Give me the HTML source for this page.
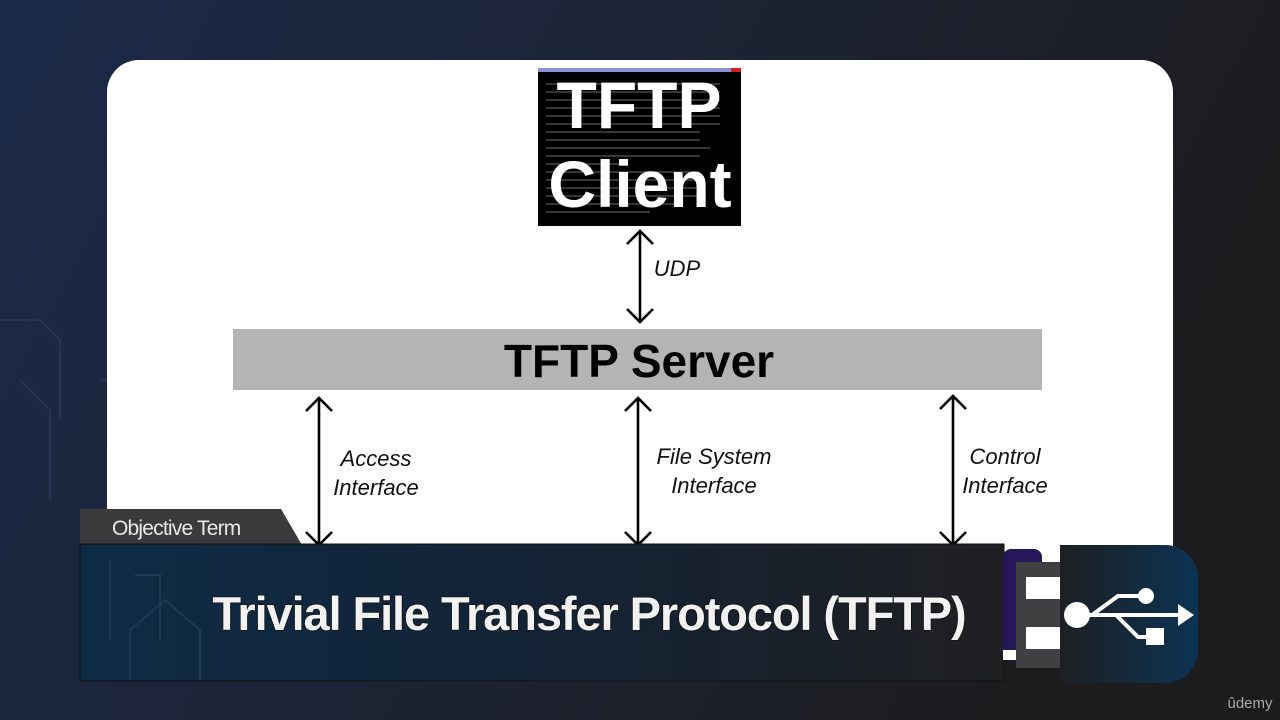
<!DOCTYPE html>
<html><head><meta charset="utf-8"><style>
html,body{margin:0;padding:0;width:1280px;height:720px;overflow:hidden;background:#1c1f26}
svg{display:block}
</style></head><body>
<svg width="1280" height="720" viewBox="0 0 1280 720" xmlns="http://www.w3.org/2000/svg">
<defs>
<linearGradient id="bg" x1="0" y1="0" x2="1" y2="0.3">
<stop offset="0" stop-color="#1b2a4a"/><stop offset="0.6" stop-color="#1d2230"/><stop offset="1" stop-color="#1c1c1e"/>
</linearGradient>
<linearGradient id="ban" x1="0" y1="0" x2="1" y2="0">
<stop offset="0" stop-color="#0e2b46"/><stop offset="0.55" stop-color="#142233"/><stop offset="1" stop-color="#1f1f21"/>
</linearGradient>
<linearGradient id="usb" x1="0" y1="0" x2="1" y2="0">
<stop offset="0" stop-color="#1e1f22"/><stop offset="1" stop-color="#0c3354"/>
</linearGradient>
</defs>
<rect width="1280" height="720" fill="url(#bg)"/>
<g stroke="#2c3e5e" stroke-width="2" fill="none" opacity="0.6">
<path d="M0 320 H40 L60 340 V420"/><path d="M20 380 L50 410 V500"/><path d="M100 380 H130 V450"/>
</g>
<rect x="107" y="60" width="1066" height="560" rx="32" fill="#fff"/>
<!-- client -->
<rect x="538" y="68" width="203" height="158" fill="#000"/>
<rect x="538" y="68" width="193" height="4" fill="#8a90d8"/>
<rect x="731" y="68" width="10" height="4" fill="#d02020"/>
<g stroke="#555" stroke-width="1.2">
<line x1="546" y1="84" x2="720" y2="84"/><line x1="546" y1="92" x2="720" y2="92"/><line x1="546" y1="100" x2="720" y2="100"/>
<line x1="546" y1="108" x2="720" y2="108"/><line x1="546" y1="116" x2="720" y2="116"/><line x1="546" y1="124" x2="720" y2="124"/>
<line x1="546" y1="132" x2="700" y2="132"/><line x1="546" y1="140" x2="700" y2="140"/><line x1="546" y1="148" x2="710" y2="148"/>
<line x1="546" y1="156" x2="700" y2="156"/><line x1="546" y1="164" x2="620" y2="164"/><line x1="546" y1="172" x2="700" y2="172"/>
<line x1="546" y1="180" x2="700" y2="180"/><line x1="546" y1="188" x2="700" y2="188"/><line x1="546" y1="196" x2="700" y2="196"/>
<line x1="546" y1="204" x2="680" y2="204"/><line x1="546" y1="212" x2="650" y2="212"/>
</g>
<g font-family="Liberation Sans, sans-serif" font-weight="bold" fill="#fff" text-anchor="middle">
<text x="639" y="128" font-size="66">TFTP</text>
<text x="640" y="207" font-size="66">Client</text>
</g>
<!-- server -->
<rect x="233" y="329" width="809" height="61" fill="#b4b4b4"/>
<text x="639" y="377" font-family="Liberation Sans, sans-serif" font-weight="bold" font-size="46" text-anchor="middle" fill="#000">TFTP Server</text>
<!-- arrows -->
<g stroke="#000" stroke-width="2.6" fill="none">
<line x1="640" y1="231" x2="640" y2="322"/>
<path d="M627 244 L640 231 L653 244"/><path d="M627 309 L640 322 L653 309"/>
<line x1="319" y1="398" x2="319" y2="545"/>
<path d="M306 411 L319 398 L332 411"/><path d="M306 532 L319 545 L332 532"/>
<line x1="638" y1="398" x2="638" y2="545"/>
<path d="M625 411 L638 398 L651 411"/><path d="M625 532 L638 545 L651 532"/>
<line x1="953" y1="396" x2="953" y2="545"/>
<path d="M940 409 L953 396 L966 409"/><path d="M940 532 L953 545 L966 532"/>
</g>
<g font-family="Liberation Sans, sans-serif" font-style="italic" font-size="22" fill="#111" text-anchor="middle">
<text x="677" y="276">UDP</text>
<text x="376" y="466">Access</text><text x="376" y="495">Interface</text>
<text x="714" y="464">File System</text><text x="714" y="493">Interface</text>
<text x="1005" y="464">Control</text><text x="1005" y="493">Interface</text>
</g>
<!-- banner -->
<path d="M80 509 H281 L302 545 H80 Z" fill="#3b3b3d"/>
<text x="112" y="535" font-family="Liberation Sans, sans-serif" font-size="21" fill="#e8e8e8" letter-spacing="-0.8">Objective Term</text>
<rect x="80" y="544" width="924" height="137" fill="url(#ban)" stroke="#111" stroke-width="1"/>
<g stroke="#24405f" stroke-width="2" fill="none" opacity="0.7">
<path d="M110 560 V640"/><path d="M135 575 H160 V640"/><path d="M130 680 V630 L165 600 L200 630 V680"/>
</g>
<text x="589" y="630" font-family="Liberation Sans, sans-serif" font-weight="bold" font-size="47" text-anchor="middle" fill="#f2f2f2" stroke="#111" stroke-width="1.5" paint-order="stroke" letter-spacing="-1.1">Trivial File Transfer Protocol (TFTP)</text>
<!-- usb -->
<rect x="1003" y="549" width="39" height="112" rx="8" fill="#25185a"/>
<rect x="1003" y="650" width="25" height="10" fill="#fff"/>
<rect x="1016" y="562" width="46" height="106" fill="#404042"/>
<rect x="1026" y="577" width="36" height="22" fill="#fff"/>
<rect x="1026" y="627" width="36" height="22" fill="#fff"/>
<path d="M1060 545 H1165 A33 33 0 0 1 1198 578 V650 A33 33 0 0 1 1165 683 H1060 Z" fill="url(#usb)"/>
<g fill="#fff" stroke="#fff">
<circle cx="1077" cy="615" r="13" stroke="none"/>
<line x1="1080" y1="615" x2="1178" y2="615" stroke-width="4"/>
<path d="M1178 604 L1194 615 L1178 626 Z" stroke="none"/>
<path d="M1092 615 L1118 596 H1142" fill="none" stroke-width="4"/>
<circle cx="1146" cy="596" r="8" stroke="none"/>
<path d="M1116 615 L1138 637 H1150" fill="none" stroke-width="4"/>
<rect x="1146" y="628" width="18" height="17" stroke="none"/>
</g>
<text x="1250" y="708" font-family="Liberation Sans, sans-serif" font-size="15" fill="#aaa" text-anchor="middle">ûdemy</text>
</svg>
</body></html>
